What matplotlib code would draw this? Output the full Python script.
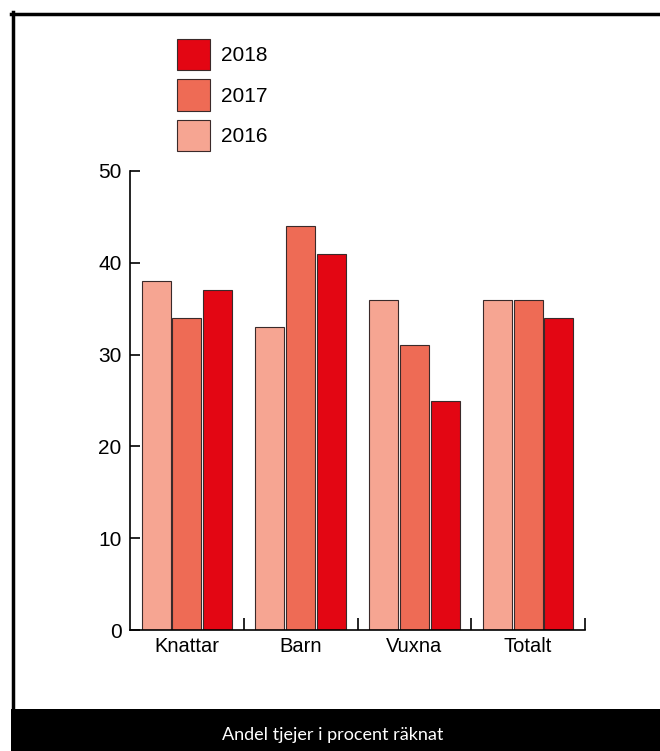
import numpy as np
import matplotlib.pyplot as plt
from matplotlib.lines import Line2D
from matplotlib.patches import Rectangle

categories = ["Knattar", "Barn", "Vuxna", "Totalt"]
years = ["2016", "2017", "2018"]
values_2016 = [38, 33, 36, 36]
values_2017 = [34, 44, 31, 36]
values_2018 = [37, 41, 25, 34]
colors = ["#f6a592", "#ee6b55", "#e30613"]

plt.rcParams['font.family'] = ['Liberation Sans', 'DejaVu Sans']

fig = plt.figure(figsize=(6.6, 7.51), dpi=100)
ax = fig.add_axes([130 / 660, 1 - 630 / 751, 455 / 660, 459 / 751])

x = np.arange(len(categories))
width = 0.255
step = 0.27
series = [values_2016, values_2017, values_2018]
bars = []
for i, vals in enumerate(series):
    b = ax.bar(x + (i - 1) * step, vals, width, color=colors[i],
               edgecolor="#3a2a2a", linewidth=0.8, label=years[i])
    bars.append(b)

ax.set_xlim(-0.5, 3.5)
ax.set_ylim(0, 50)
ax.spines[['top', 'right']].set_visible(False)
ax.spines[['left', 'bottom']].set_linewidth(1.2)

ax.set_yticks(range(0, 51, 10))
ax.tick_params(axis='y', direction='in', length=7.5, width=1.2, labelsize=15, pad=6)
ax.set_xticks(x)
ax.set_xticklabels(categories)
ax.tick_params(axis='x', which='major', length=0, labelsize=14.5, pad=5)
ax.set_xticks([0.5, 1.5, 2.5, 3.5], minor=True)
ax.tick_params(axis='x', which='minor', direction='in', length=9, width=1.2)

leg = ax.legend(handles=bars[::-1], labels=years[::-1], frameon=False,
                loc='upper left', bbox_to_anchor=(177 / 660, 1 - 39 / 751),
                bbox_transform=fig.transFigure, borderpad=0, borderaxespad=0,
                handlelength=1.59, handleheight=1.92, labelspacing=0.45,
                handletextpad=0.5, fontsize=15)

# outer frame and bottom caption band
fig.add_artist(Line2D([12.5 / 660, 12.5 / 660], [0, 1 - 12 / 751],
                      color='black', linewidth=2.5))
fig.add_artist(Line2D([11 / 660, 1], [1 - 13.5 / 751, 1 - 13.5 / 751],
                      color='black', linewidth=2.5))
fig.add_artist(Rectangle((11 / 660, 0), 1, 42 / 751, transform=fig.transFigure,
                         facecolor='black', edgecolor='none', zorder=0))
fig.text(333 / 660, 16 / 751, "Andel tjejer i procent räknat", color='white',
         fontsize=13, ha='center', va='center', family=['Lato', 'DejaVu Sans'],
         zorder=10)

fig.savefig("out.png", dpi=100)
